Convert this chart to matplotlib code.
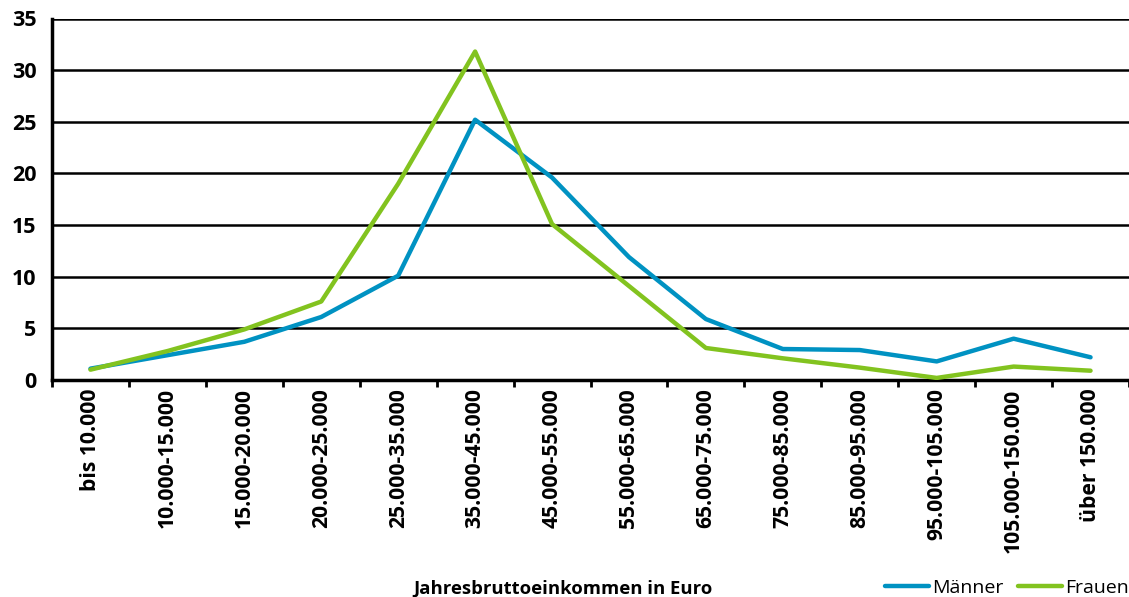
import matplotlib
matplotlib.use("Agg")
import matplotlib.pyplot as plt
import numpy as np

categories = ["bis 10.000", "10.000-15.000", "15.000-20.000", "20.000-25.000",
              "25.000-35.000", "35.000-45.000", "45.000-55.000", "55.000-65.000",
              "65.000-75.000", "75.000-85.000", "85.000-95.000", "95.000-105.000",
              "105.000-150.000", "über 150.000"]
maenner = [1.1, 2.4, 3.7, 6.1, 10.1, 25.2, 19.6, 11.9, 5.9, 3.0, 2.9, 1.8, 4.0, 2.2]
frauen = [1.0, 2.8, 4.9, 7.6, 19.0, 31.8, 15.1, 9.1, 3.1, 2.1, 1.2, 0.2, 1.3, 0.9]
yticks = [0, 5, 10, 15, 20, 25, 30, 35]

plt.rcParams['font.family'] = ['Open Sans', 'DejaVu Sans']

fig = plt.figure(figsize=(11.29, 5.97), dpi=100)
ax = fig.add_axes([52/1129, (597-380)/597, 1 - 52/1129, (380-18.5)/597])

x = np.arange(len(categories))
ax.plot(x, maenner, color='#0092c2', lw=3.2, solid_capstyle='round', label='Männer', zorder=3)
ax.plot(x, frauen, color='#82c31f', lw=3.2, solid_capstyle='round', label='Frauen', zorder=3)

ax.set_xlim(-0.5, len(categories) - 0.5)
ax.set_ylim(0, 35)
ax.set_yticks(yticks)
ax.set_yticklabels([str(v) for v in yticks], fontweight='bold', fontsize=15.5)
ax.tick_params(axis='y', length=0, pad=11)
for v in yticks[1:]:
    ax.axhline(v, color='black', lw=1.8, zorder=1)

ax.set_xticks(np.arange(len(categories) + 1) - 0.5)
ax.set_xticklabels([])
ax.tick_params(axis='x', which='major', length=5, width=2, direction='out', color='black')
ax.set_xticks(x, minor=True)
ax.set_xticklabels(categories, minor=True, rotation=90, fontweight='bold', fontsize=15.2,
                   va='top', ha='center')
ax.tick_params(axis='x', which='minor', length=0, pad=6)

for s in ['top', 'right']:
    ax.spines[s].set_visible(False)
ax.spines['left'].set_linewidth(2.5)
ax.spines['bottom'].set_linewidth(2.5)

fig.text(563/1129, 1 - 589/597, "Jahresbruttoeinkommen in Euro", fontweight='bold',
         fontsize=13.3, ha='center', va='center')

leg = fig.legend(loc='center right', bbox_to_anchor=(1.0, 1 - 588/597), ncol=2, frameon=False,
                 fontsize=14, handlelength=2.27, handletextpad=0.15, columnspacing=0.75,
                 borderaxespad=0, borderpad=0)

fig.savefig("out.png", dpi=100)
